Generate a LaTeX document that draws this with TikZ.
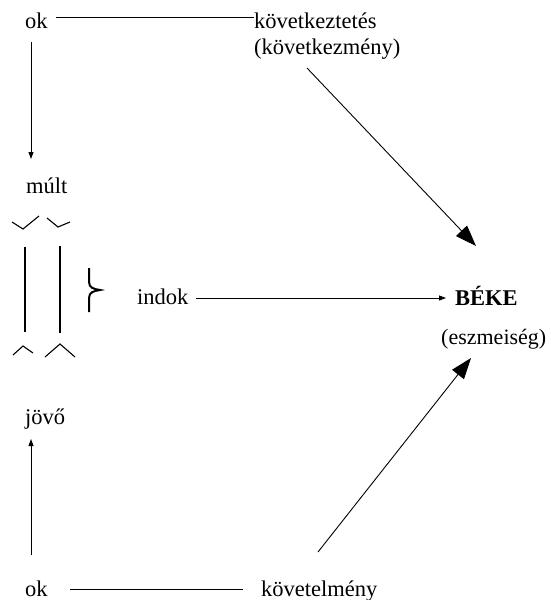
\documentclass[tikz,border=0pt]{standalone}
\usepackage{fontspec}
\setmainfont{Liberation Serif}
\usetikzlibrary{arrows.meta}
\begin{document}
\begin{tikzpicture}[x=1pt,y=-1pt,
 lbl/.style={anchor=base west,inner sep=0pt,font=\fontsize{22.5}{26}\selectfont},
 ln/.style={line width=0.9pt},
 small/.style={ln,-{Triangle[length=7pt,width=5pt]}},
 big/.style={ln,-{Triangle[length=21pt,width=15pt]}},
 chev/.style={line width=1.1pt}]
\useasboundingbox (0,0) rectangle (550,600);
% texts
\node[lbl] (ok1) at (25,28) {ok};
\node[lbl] (kov) at (254,28) {következtetés};
\node[lbl] (kovm) at (254,54) {(következmény)};
\node[lbl] (mult) at (26,193) {múlt};
\node[lbl] (indok) at (137,304) {indok};
\node[lbl,font=\fontsize{22.5}{26}\selectfont\bfseries] (beke) at (455,305) {BÉKE};
\node[lbl,font=\fontsize{22}{26}\selectfont] (eszm) at (441,344) {(eszmeiség)};
\node[lbl] (jovo) at (25,424) {jövő};
\node[lbl] (ok2) at (25,596) {ok};
\node[lbl] (kovt) at (261,596) {követelmény};
% free ends
\coordinate (a1s) at (31,42);
\coordinate (a1e) at (31,159);
\coordinate (a2s) at (31,555);
\coordinate (a2e) at (31,439);
\coordinate (l1s) at (56,17);
\coordinate (l2s) at (70,589);
\coordinate (l2e) at (243,589);
\coordinate (ds1) at (307,68);
\coordinate (de1) at (476,246);
\coordinate (ds2) at (318,552);
\coordinate (de2) at (471,358);
\coordinate (hs) at (196,298);
\coordinate (he) at (446,298);
% connectors
\draw[ln] (l1s) -- (kov.west |- l1s);
\draw[ln] (l2s) -- (l2e);
\draw[small] (a1s) -- (a1e);
\draw[small] (a2s) -- (a2e);
\draw[small] (hs) -- (he);
\draw[big] (ds1) -- (de1);
\draw[big] (ds2) -- (de2);
% chevrons
\draw[chev] (12,222) -- (23,229) -- (39,216);
\draw[chev] (47,218) -- (58,227) -- (70,222);
\draw[chev] (13,355) -- (23,346) -- (33,353);
\draw[chev] (45,357) -- (60,344) -- (75,357);
% vertical bars
\draw[line width=1.3pt] (25,247) -- (25,332);
\draw[line width=1.3pt] (60,246) -- (60,333);
% brace
\draw[line width=2pt] (89,268) -- (89,282) .. controls (89,288) and (94,289) .. (100,290)
  .. controls (94,291) and (89,292) .. (89,298) -- (89,312);
\end{tikzpicture}
\end{document}
